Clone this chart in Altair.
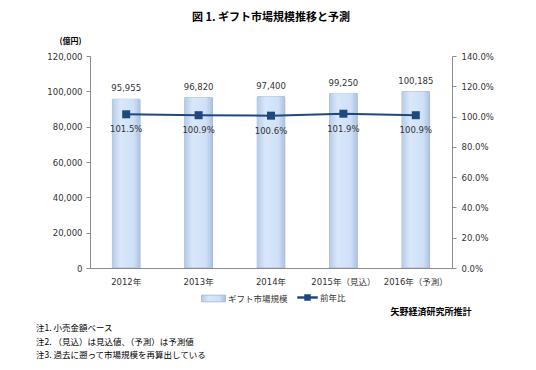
import altair as alt
import pandas as pd

years = ["2012年", "2013年", "2014年", "2015年（見込）", "2016年（予測）"]
market = [95955, 96820, 97400, 99250, 100185]
yoy = [1.015, 1.009, 1.006, 1.019, 1.009]
left_ticks = [0, 20000, 40000, 60000, 80000, 100000, 120000]
right_ticks = [0, 0.2, 0.4, 0.6, 0.8, 1.0, 1.2, 1.4]
title_text = "図 1. ギフト市場規模推移と予測"
bar_name = "ギフト市場規模"
line_name = "前年比"
unit_text = "(億円)"
source_text = "矢野経済研究所推計"
notes = ["注1. 小売金額ベース", "注2. （見込）は見込値、（予測）は予測値", "注3. 過去に遡って市場規模を再算出している"]

df = pd.DataFrame({"year": years, "market": market, "yoy": yoy})
df["s1"] = bar_name
df["s2"] = line_name

JP = "Noto Sans CJK JP"
NUM = "DejaVu Sans, Noto Sans CJK JP"
AX = "#8c8c8c"

base = alt.Chart(df)

x = alt.X("year:N", sort=years,
          scale=alt.Scale(paddingInner=0.6, paddingOuter=0.3),
          axis=alt.Axis(title=None, labelAngle=0, ticks=False, domainColor=AX,
                        labelFont=NUM, labelFontSize=8.5, labelColor="#333333",
                        labelPadding=9))

y_left = alt.Y("market:Q", scale=alt.Scale(domain=[0, 120000]),
               axis=alt.Axis(orient="left", values=left_ticks,
                             labelExpr="format(datum.value, ',')", grid=False,
                             tickSize=4, tickColor=AX, domainColor=AX,
                             labelFont="DejaVu Sans", labelFontSize=8.5, labelColor="#333333",
                             labelPadding=4,
                             title=unit_text, titleAngle=0, titleX=-20, titleY=-15,
                             titleAlign="center", titleBaseline="middle",
                             titleFont=JP, titleFontSize=8, titleFontWeight="bold",
                             titleColor="#000000"))

y_right = alt.Y("yoy:Q", scale=alt.Scale(domain=[0, 1.4]),
                axis=alt.Axis(orient="right", values=right_ticks,
                              labelExpr="format(datum.value, '.1%')", grid=False,
                              tickSize=4, tickColor=AX, domainColor=AX,
                              labelFont="DejaVu Sans", labelFontSize=8.5, labelColor="#333333",
                              labelPadding=5, title=None))

grad = alt.Gradient(gradient="linear",
                    stops=[alt.GradientStop(color="#b4c9e6", offset=0),
                           alt.GradientStop(color="#d9e7fa", offset=0.3),
                           alt.GradientStop(color="#cfe0f7", offset=0.75),
                           alt.GradientStop(color="#a9bfdf", offset=1)],
                    x1=0, x2=1, y1=0, y2=0)

bars = base.mark_bar(fill=grad, strokeWidth=0.8, cornerRadiusTopLeft=2,
                     cornerRadiusTopRight=2).encode(
    x=x, y=y_left,
    stroke=alt.Stroke("s1:N", scale=alt.Scale(range=["#a2b5ce"]),
                      legend=alt.Legend(title=None, orient="none", legendX=111, legendY=230,
                                        symbolType="M-1,-0.28H1V0.28H-1Z", symbolSize=576,
                                        symbolFillColor="#d6e4f7", symbolStrokeColor="#a2b5ce",
                                        symbolStrokeWidth=0.8,
                                        labelFont=JP, labelFontSize=8.5, labelColor="#333333",
                                        labelOffset=2)))

bar_text = base.mark_text(dy=-10, font="DejaVu Sans", fontSize=8.5, color="#333333").encode(
    x=x, y=y_left, text=alt.Text("market:Q", format=","))

color_line = alt.Color("s2:N", scale=alt.Scale(range=["#1f497d"]),
                       legend=alt.Legend(title=None, orient="none", legendX=207, legendY=231,
                                         symbolType="M-1,-0.09H1V0.09H-1Z M-0.3,-0.3H0.3V0.3H-0.3Z",
                                         symbolSize=400, symbolFillColor="#1f497d",
                                         symbolStrokeColor="#1f497d", symbolStrokeWidth=0.5,
                                         labelFont=JP, labelFontSize=8.5, labelColor="#333333",
                                         labelOffset=2))

line = base.mark_line(strokeWidth=2).encode(x=x, y=y_right, color=color_line)
points = base.mark_point(shape="square", filled=True, size=64, opacity=1).encode(
    x=x, y=y_right, color=color_line)
pct_text = base.mark_text(dy=15, font="DejaVu Sans", fontSize=8.5, color="#333333").encode(
    x=x, y=y_right, text=alt.Text("yoy:Q", format=".1%"))

ann_df = pd.DataFrame({"k": [0]})
source = alt.Chart(ann_df).mark_text(font=JP, fontSize=9, fontWeight="bold", color="#000000",
                                     align="center", baseline="middle").encode(
    x=alt.value(341), y=alt.value(256), text=alt.value(source_text))
note_mark = alt.Chart(ann_df).mark_text(font=JP, fontSize=8.5, color="#000000", align="left",
                                        baseline="top", lineHeight=13.5).encode(
    x=alt.value(-54), y=alt.value(268), text=alt.value(notes))

left = alt.layer(bars, bar_text)
right = alt.layer(line, points, pct_text)

chart = alt.layer(left, right, source, note_mark).resolve_scale(
    y="independent", color="independent", stroke="independent").properties(
    width=362, height=212,
    padding={"left": 82, "top": 48, "right": 76, "bottom": 94},
    autosize=alt.AutoSizeParams(type="none"),
    title=alt.TitleParams(title_text, font=JP, fontSize=11, fontWeight="bold",
                          anchor="middle", frame="group", offset=14, color="#000000"),
).configure_view(stroke=None)

chart.save("out.html", embed_options={"renderer": "svg", "actions": False})
